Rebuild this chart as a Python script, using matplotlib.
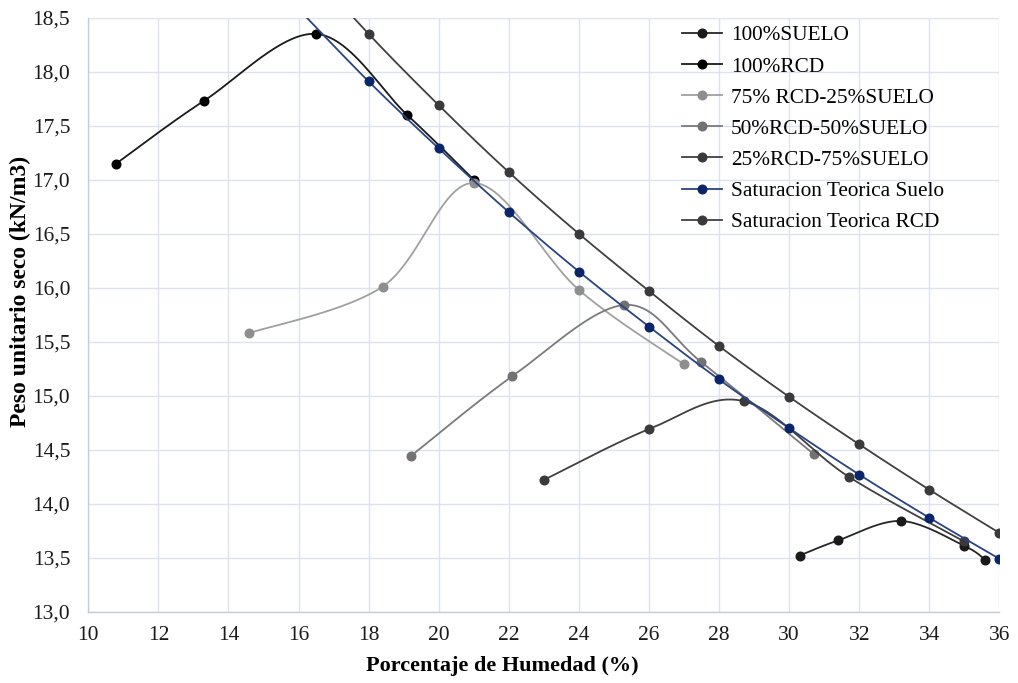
import numpy as np
import matplotlib
matplotlib.use("Agg")
import matplotlib.pyplot as plt
from matplotlib.ticker import FuncFormatter, MultipleLocator

# ---------------- data ----------------
suelo_w = [30.3, 31.4, 33.2, 35.0, 35.6]
suelo_g = [13.52, 13.66, 13.84, 13.61, 13.48]

rcd_w = [10.8, 13.3, 16.5, 19.1, 21.0]
rcd_g = [17.15, 17.73, 18.35, 17.60, 17.00]

m75_w = [14.6, 18.4, 21.0, 24.0, 27.0]
m75_g = [15.58, 16.01, 16.97, 15.98, 15.29]

m50_w = [19.2, 22.1, 25.3, 27.5, 30.7]
m50_g = [14.44, 15.18, 15.84, 15.31, 14.46]

m25_w = [23.0, 26.0, 28.7, 31.7, 35.0]
m25_g = [14.22, 14.69, 14.95, 14.25, 13.65]

sat_w = [16, 18, 20, 22, 24, 26, 28, 30, 32, 34, 36]
sat_suelo = [18.58, 17.91, 17.29, 16.70, 16.15, 15.64, 15.15, 14.70, 14.27, 13.87, 13.49]
sat_rcd = [19.07, 18.35, 17.69, 17.07, 16.50, 15.97, 15.46, 14.99, 14.55, 14.13, 13.73]

labels = ["100%SUELO", "100%RCD", "75% RCD-25%SUELO", "50%RCD-50%SUELO",
          "25%RCD-75%SUELO", "Saturacion Teorica Suelo", "Saturacion Teorica RCD"]

xlim = (10, 36)
ylim = (13.0, 18.5)

# ---------------- figure ----------------
W, H, DPI = 1018, 683, 100
fig = plt.figure(figsize=(W / DPI, H / DPI), dpi=DPI)
ax_l, ax_b, ax_r, ax_t = 88.3 / W, 1 - 611.7 / H, 999.3 / W, 1 - 17.7 / H
ax = fig.add_axes([ax_l, ax_b, ax_r - ax_l, ax_t - ax_b])
ax.set_xlim(*xlim)
ax.set_ylim(*ylim)

AXW = (ax_r - ax_l) * W
AXH = (ax_t - ax_b) * H
sx = AXW / (xlim[1] - xlim[0])
sy = AXH / (ylim[1] - ylim[0])

NSEG = 40


def smooth(xs, ys):
    """Excel-like smoothed line (Catmull-Rom Bezier) in pixel space."""
    p = np.column_stack([np.asarray(xs, float) * sx, np.asarray(ys, float) * sy])
    n = len(p)
    out = [p[0]]
    t = np.linspace(0, 1, NSEG + 1)[1:]
    for i in range(n - 1):
        p0 = p[i - 1] if i > 0 else p[i]
        p1 = p[i]
        p2 = p[i + 1]
        p3 = p[i + 2] if i + 2 < n else p[i + 1]
        c1 = p1 + (p2 - p0) / 6.0
        c2 = p2 - (p3 - p1) / 6.0
        seg = ((1 - t) ** 3)[:, None] * p1 + (3 * (1 - t) ** 2 * t)[:, None] * c1 \
            + (3 * (1 - t) * t ** 2)[:, None] * c2 + (t ** 3)[:, None] * p2
        out.extend(seg)
    out = np.array(out)
    return out[:, 0] / sx, out[:, 1] / sy, [i * NSEG for i in range(n)]


series = [
    (suelo_w, suelo_g, "#262626", "#1a1a1a"),
    (rcd_w, rcd_g, "#1a1a1a", "#000000"),
    (m75_w, m75_g, "#a0a0a0", "#8e8e8e"),
    (m50_w, m50_g, "#7a7a7a", "#727272"),
    (m25_w, m25_g, "#404040", "#3a3a3a"),
    (sat_w, sat_suelo, "#2a4483", "#0b2569"),
    (sat_w, sat_rcd, "#404040", "#3a3a3a"),
]

for (xs, ys, lc, mc), lab in zip(series, labels):
    X, Y, me = smooth(xs, ys)
    ax.plot(X, Y, color=lc, lw=1.3, marker="o", markevery=me, markersize=6.2,
            markerfacecolor=mc, markeredgecolor=mc, label=lab, zorder=3)

# ---------------- axes styling ----------------
serif = ["Liberation Serif", "DejaVu Serif"]
ax.xaxis.set_major_locator(MultipleLocator(2))
ax.yaxis.set_major_locator(MultipleLocator(0.5))
ax.yaxis.set_major_formatter(FuncFormatter(lambda v, p: f"{v:.1f}".replace(".", ",")))
ax.xaxis.set_major_formatter(FuncFormatter(lambda v, p: f"{v:.0f}"))
ax.grid(True, color="#dde2ec", lw=1.0, zorder=0)
ax.set_axisbelow(True)
for s in ["top", "right"]:
    ax.spines[s].set_visible(False)
for s in ["left", "bottom"]:
    ax.spines[s].set_color("#c5ccd9")
    ax.spines[s].set_linewidth(1.0)
ax.tick_params(axis="both", length=0, labelsize=15.5, colors="#1a1a1a")
ax.tick_params(axis="y", pad=13)
ax.tick_params(axis="x", pad=10)
for lab in ax.get_xticklabels() + ax.get_yticklabels():
    lab.set_family(serif)

ax.set_xlabel("Porcentaje de Humedad (%)", family=serif, fontsize=16,
              fontweight="bold", labelpad=8)
ax.xaxis.set_label_coords((502 - 88.3) / AXW, -0.075)
ax.set_ylabel("Peso unitario seco (kN/m3)", family=serif, fontsize=17,
              fontweight="bold", labelpad=0)
ax.yaxis.set_label_coords(-(88.3 - 31) / AXW, 1 - (291 - 17.7) / AXH)

leg = ax.legend(loc="upper left",
                bbox_to_anchor=((682 - 88.3) / AXW, 1 - (25.5 - 17.7) / AXH),
                frameon=False, prop={"family": serif, "size": 15.3},
                handlelength=1.9, handletextpad=0.4, labelspacing=0.53,
                borderaxespad=0.0, borderpad=0.0)

fig.savefig("out.png", dpi=DPI)
